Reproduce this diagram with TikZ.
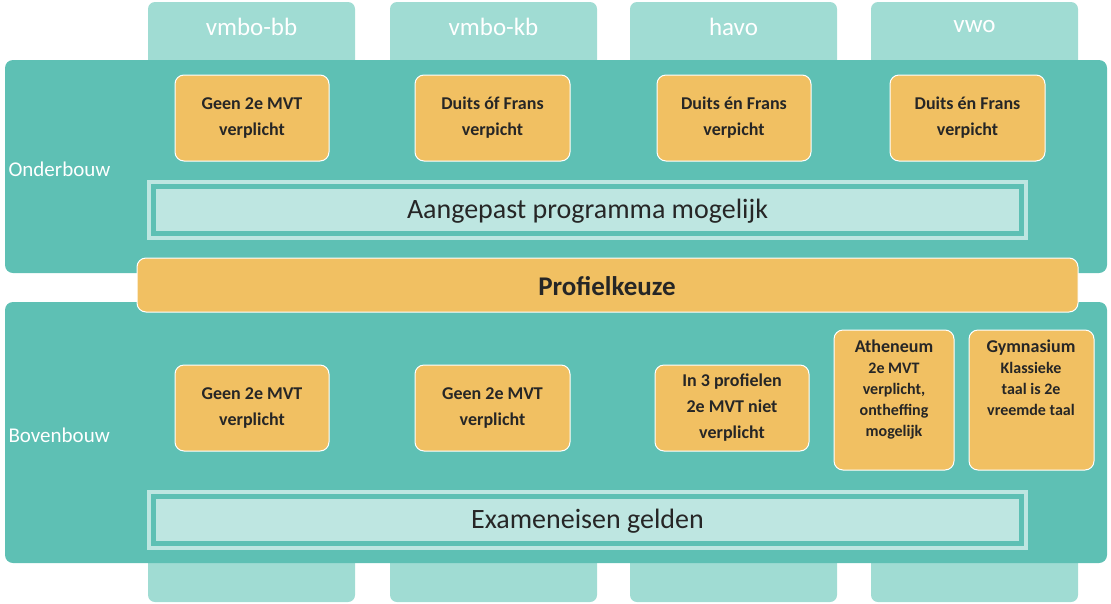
\documentclass[tikz,border=0pt]{standalone}
\usepackage{fontspec}
\setmainfont{Carlito}
\definecolor{teal}{HTML}{5EC0B4}
\definecolor{tab}{HTML}{A0DCD3}
\definecolor{org}{HTML}{F1C062}
\definecolor{lite}{HTML}{BEE6E1}
\definecolor{txt}{HTML}{262626}
\begin{document}
\begin{tikzpicture}[x=1pt,y=-1pt,
  tabbox/.style={fill=tab,rounded corners=7pt},
  panel/.style={fill=teal,rounded corners=8pt},
  obox/.style={fill=org,draw=white,line width=1pt,rounded corners=9pt},
  btxt/.style={font=\fontsize{18}{26}\selectfont\bfseries,text=txt,align=center},
  stxt/.style={font=\fontsize{16}{21}\selectfont\bfseries,text=txt,align=center},
  ttxt/.style={font=\fontsize{25}{30}\selectfont,text=white},
  lbl/.style={font=\fontsize{21}{25}\selectfont,text=white,anchor=west}]
\useasboundingbox (0,0) rectangle (1111,603);
% tabs
\foreach \a/\b/\t [count=\i] in {148/355/vmbo-bb,390/597/vmbo-kb/gl/tl,630/837/havo,871/1078/vwo}{
  \fill[tabbox] (\a,2) rectangle (\b,75);
  \fill[tabbox] (\a,545) rectangle (\b,602);
  \node[ttxt] (tab\i) at ({(\a+\b)/2},27) {\t};
}
\fill[panel] (5,60) rectangle (1107,273);
\fill[panel] (5,302) rectangle (1107,563);
\node[lbl] (ob) at (5,169) {Onderbouw};
\node[lbl] (bb) at (5,435) {Bovenbouw};
% top boxes
\foreach \a/\b/\t [count=\i] in {175/329/{Geen 2e MVT\\verplicht},415/570/{Duits óf Frans\\verpicht},657/811/{Duits én Frans\\verpicht},890/1045/{Duits én Frans\\verpicht}}{
  \draw[obox] (\a,75) rectangle (\b,161);
  \node[btxt] (t\i) at ({(\a+\b)/2},118) {\t};
}
% frames
\foreach \y/\t/\n in {180/Aangepast programma mogelijk/ap,490/Exameneisen gelden/ex}{
  \fill[lite] (147,\y) rectangle (1028,\y+60);
  \fill[teal] (151,\y+4) rectangle (1024,\y+56);
  \fill[lite] (156,\y+9) rectangle (1019,\y+51);
  \node[font=\fontsize{28}{32}\selectfont,text=txt] (\n) at (587.5,\y+31) {\t};
}
\draw[obox] (137,258) rectangle (1078,312);
\node[font=\fontsize{27}{32}\selectfont\bfseries,text=txt] (pk) at (607,286) {Profielkeuze};
% bottom boxes
\foreach \a/\b/\t [count=\i] in {175/329/{Geen 2e MVT\\verplicht},415/570/{Geen 2e MVT\\verplicht}}{
  \draw[obox] (\a,365) rectangle (\b,451);
  \node[btxt] (b\i) at ({(\a+\b)/2},408) {\t};
}
\draw[obox] (655,365) rectangle (809,451);
\node[btxt] (b3) at (732,408) {In 3 profielen\\2e MVT niet\\verplicht};
\draw[obox] (834,330) rectangle (954,470);
\node[stxt,anchor=north] (b4) at (894,336) {{\fontsize{18}{22}\selectfont Atheneum}\\2e MVT\\verplicht,\\ontheffing\\mogelijk};
\draw[obox] (969,330) rectangle (1094,470);
\node[stxt,anchor=north] (b5) at (1031,336) {{\fontsize{18}{22}\selectfont Gymnasium}\\Klassieke\\taal is 2e\\vreemde taal};
\end{tikzpicture}
\end{document}
